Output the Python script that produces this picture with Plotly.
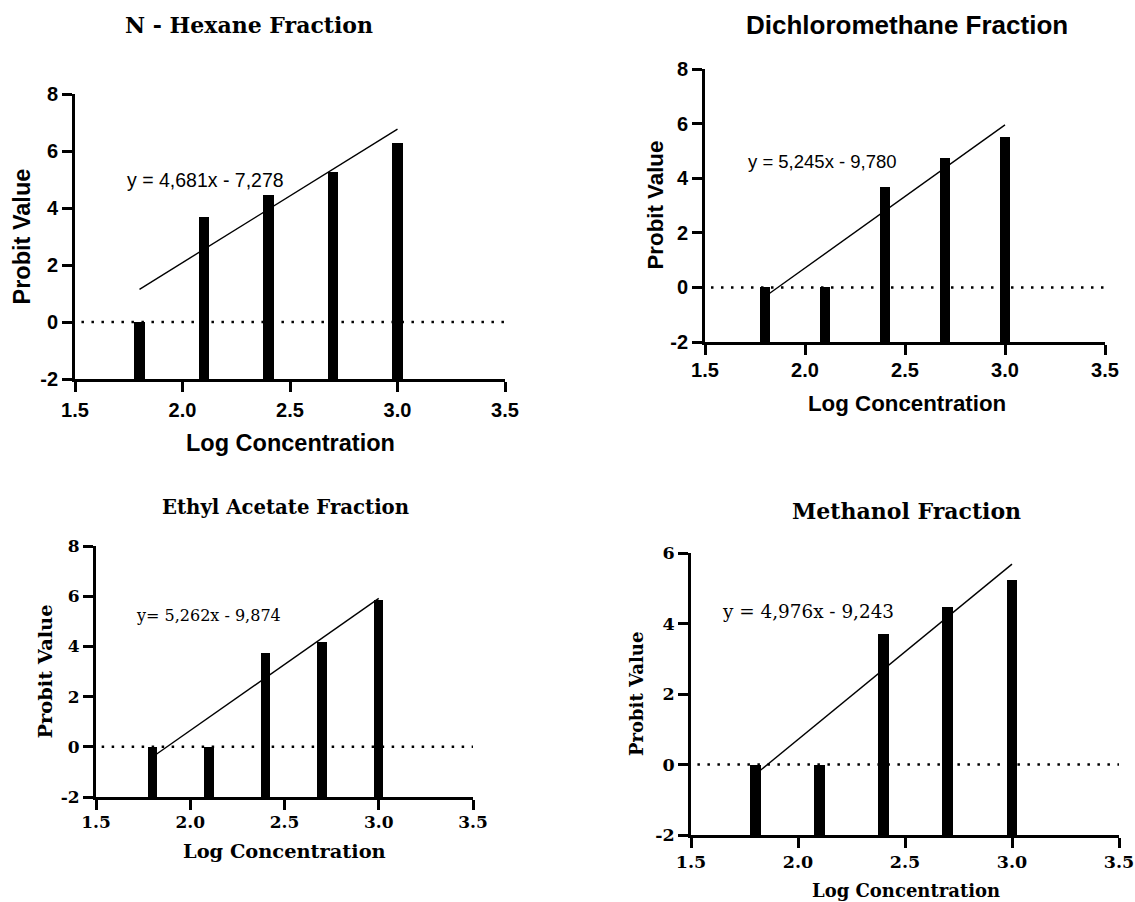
import plotly.graph_objects as go

# ---------------- data ----------------
log_conc = [1.8, 2.1, 2.4, 2.7, 3.0]

hexane_probit = [0.0, 3.70, 4.47, 5.25, 6.28]
dcm_probit = [0.0, 0.0, 3.69, 4.73, 5.51]
ethyl_probit = [0.0, 0.0, 3.72, 4.16, 5.85]
methanol_probit = [0.0, 0.0, 3.70, 4.47, 5.24]

# regression lines (slope, intercept) as printed on the chart
hexane_fit = (4.681, -7.278)
dcm_fit = (5.245, -9.780)
ethyl_fit = (5.262, -9.874)
methanol_fit = (4.976, -9.243)
fit_x_start = [1.80, 1.82, 1.82, 1.82]
fit_x_end = 3.0

titles = ["N - Hexane Fraction", "Dichloromethane Fraction",
          "Ethyl Acetate Fraction", "Methanol Fraction"]
equations = ["y = 4,681x - 7,278", "y = 5,245x - 9,780",
             "y= 5,262x - 9,874", "y = 4,976x - 9,243"]

x_tickvals = [1.5, 2.0, 2.5, 3.0, 3.5]
x_ticktext = ["1.5", "2.0", "2.5", "3.0", "3.5"]
y_tickvals_8 = [-2, 0, 2, 4, 6, 8]
y_ticktext_8 = ["-2", "0", "2", "4", "6", "8"]
y_tickvals_6 = [-2, 0, 2, 4, 6]
y_ticktext_6 = ["-2", "0", "2", "4", "6"]

# ---------------- layout helpers ----------------
W, H = 1135, 902
SANS = "Liberation Sans, Arial, sans-serif"
SERIF = "DejaVu Serif, serif"


def px_x(p):
    return p / W


def px_y(p):
    return 1 - p / H


panels = [
    dict(series=hexane_probit, fit=hexane_fit, xs=fit_x_start[0],
         dom=(75, 505, 94, 379), yr=(-2, 8), yt=(y_tickvals_8, y_ticktext_8),
         title_font=(SERIF, 22), title_pos=(249, 25),
         tick_font=(SANS, 20), axis_font=(SANS, 23.5),
         ytitle_pos=(21, 236.5), xtitle_pos=(290, 443),
         eq_font=(SANS, 19.5), eq_pos=(125, 180), standoff=1),
    dict(series=dcm_probit, fit=dcm_fit, xs=fit_x_start[1],
         dom=(705, 1105, 69, 342), yr=(-2, 8), yt=(y_tickvals_8, y_ticktext_8),
         title_font=(SANS, 26), title_pos=(907, 25),
         tick_font=(SANS, 20), axis_font=(SANS, 22.3),
         ytitle_pos=(655, 205.5), xtitle_pos=(907, 403),
         eq_font=(SANS, 18.5), eq_pos=(746, 162), standoff=-2),
    dict(series=ethyl_probit, fit=ethyl_fit, xs=fit_x_start[2],
         dom=(96, 473, 546, 797), yr=(-2, 8), yt=(y_tickvals_8, y_ticktext_8),
         title_font=(SERIF, 19.7), title_pos=(285, 507),
         tick_font=(SERIF, 17), axis_font=(SERIF, 19.4),
         ytitle_pos=(45, 671.5), xtitle_pos=(284.5, 851),
         eq_font=(SERIF, 16), eq_pos=(134, 615), standoff=-2),
    dict(series=methanol_probit, fit=methanol_fit, xs=fit_x_start[3],
         dom=(691, 1119, 553, 835), yr=(-2, 6), yt=(y_tickvals_6, y_ticktext_6),
         title_font=(SERIF, 22), title_pos=(906, 511),
         tick_font=(SERIF, 17.5), axis_font=(SERIF, 18),
         ytitle_pos=(636, 694), xtitle_pos=(905.5, 890),
         eq_font=(SERIF, 18.4), eq_pos=(720, 611), standoff=-1),
]

fig = go.Figure()
annotations = []
shapes = []

for i, p in enumerate(panels):
    n = "" if i == 0 else str(i + 1)
    xa, ya = "x" + n, "y" + n
    base = p["yr"][0]
    # bars rising from the bottom of the axis
    fig.add_trace(go.Bar(
        x=log_conc, y=[v - base for v in p["series"]], base=base,
        width=0.05, marker=dict(color="black", line=dict(width=0)),
        xaxis=xa, yaxis=ya, showlegend=False,
        hovertemplate="%{x}: %{customdata}<extra></extra>",
        customdata=p["series"]))
    # regression line
    slope, icpt = p["fit"]
    lx = [p["xs"], fit_x_end]
    fig.add_trace(go.Scatter(
        x=lx, y=[slope * v + icpt for v in lx], mode="lines",
        line=dict(color="black", width=1.4),
        xaxis=xa, yaxis=ya, showlegend=False, hoverinfo="skip"))
    # dotted zero line
    shapes.append(dict(type="line", xref=xa, yref=ya, x0=1.53, x1=3.5, y0=0, y1=0,
                       line=dict(color="black", width=2.5, dash="2.5px,7.5px"),
                       layer="below"))

    x0, x1, y0, y1 = p["dom"]
    tf, ts = p["tick_font"]
    common = dict(showline=True, linecolor="black", linewidth=2.8,
                  ticks="outside", ticklen=10, tickwidth=2.8, tickcolor="black",
                  showgrid=False, zeroline=False, automargin=False,
                  ticklabeloverflow="allow",
                  tickfont=dict(family=tf, size=ts, color="black", weight="bold"))
    fig.update_layout(**{
        ("xaxis" + n): dict(domain=[px_x(x0), px_x(x1)], range=[1.5, 3.5],
                            anchor=ya, tickvals=x_tickvals, ticktext=x_ticktext,
                            ticklabelstandoff=p["standoff"], **common),
        ("yaxis" + n): dict(domain=[px_y(y1), px_y(y0)], range=list(p["yr"]),
                            anchor=xa, tickvals=p["yt"][0], ticktext=p["yt"][1],
                            **common),
    })

    # panel title
    f, s = p["title_font"]
    annotations.append(dict(text=titles[i], x=px_x(p["title_pos"][0]), y=px_y(p["title_pos"][1]),
                            xref="paper", yref="paper", xanchor="center", yanchor="middle",
                            showarrow=False,
                            font=dict(family=f, size=s, color="black", weight="bold")))
    # axis titles
    f, s = p["axis_font"]
    annotations.append(dict(text="Probit Value", x=px_x(p["ytitle_pos"][0]), y=px_y(p["ytitle_pos"][1]),
                            xref="paper", yref="paper", xanchor="center", yanchor="middle",
                            textangle=-90, showarrow=False,
                            font=dict(family=f, size=s, color="black", weight="bold")))
    annotations.append(dict(text="Log Concentration", x=px_x(p["xtitle_pos"][0]), y=px_y(p["xtitle_pos"][1]),
                            xref="paper", yref="paper", xanchor="center", yanchor="middle",
                            showarrow=False,
                            font=dict(family=f, size=s, color="black", weight="bold")))
    # equation
    f, s = p["eq_font"]
    annotations.append(dict(text=equations[i], x=px_x(p["eq_pos"][0]), y=px_y(p["eq_pos"][1]),
                            xref="paper", yref="paper", xanchor="left", yanchor="middle",
                            showarrow=False,
                            font=dict(family=f, size=s, color="black")))

fig.update_layout(
    width=W, height=H, margin=dict(l=0, r=0, t=0, b=0, pad=0, autoexpand=False),
    paper_bgcolor="white", plot_bgcolor="white",
    annotations=annotations, shapes=shapes, bargap=0,
)

# remove the browser's default page margin so the figure sits at the window origin
fig.write_html("out.html",
               config={"displayModeBar": False},
               post_script="document.body.style.margin='0px';document.body.style.overflow='hidden';")
